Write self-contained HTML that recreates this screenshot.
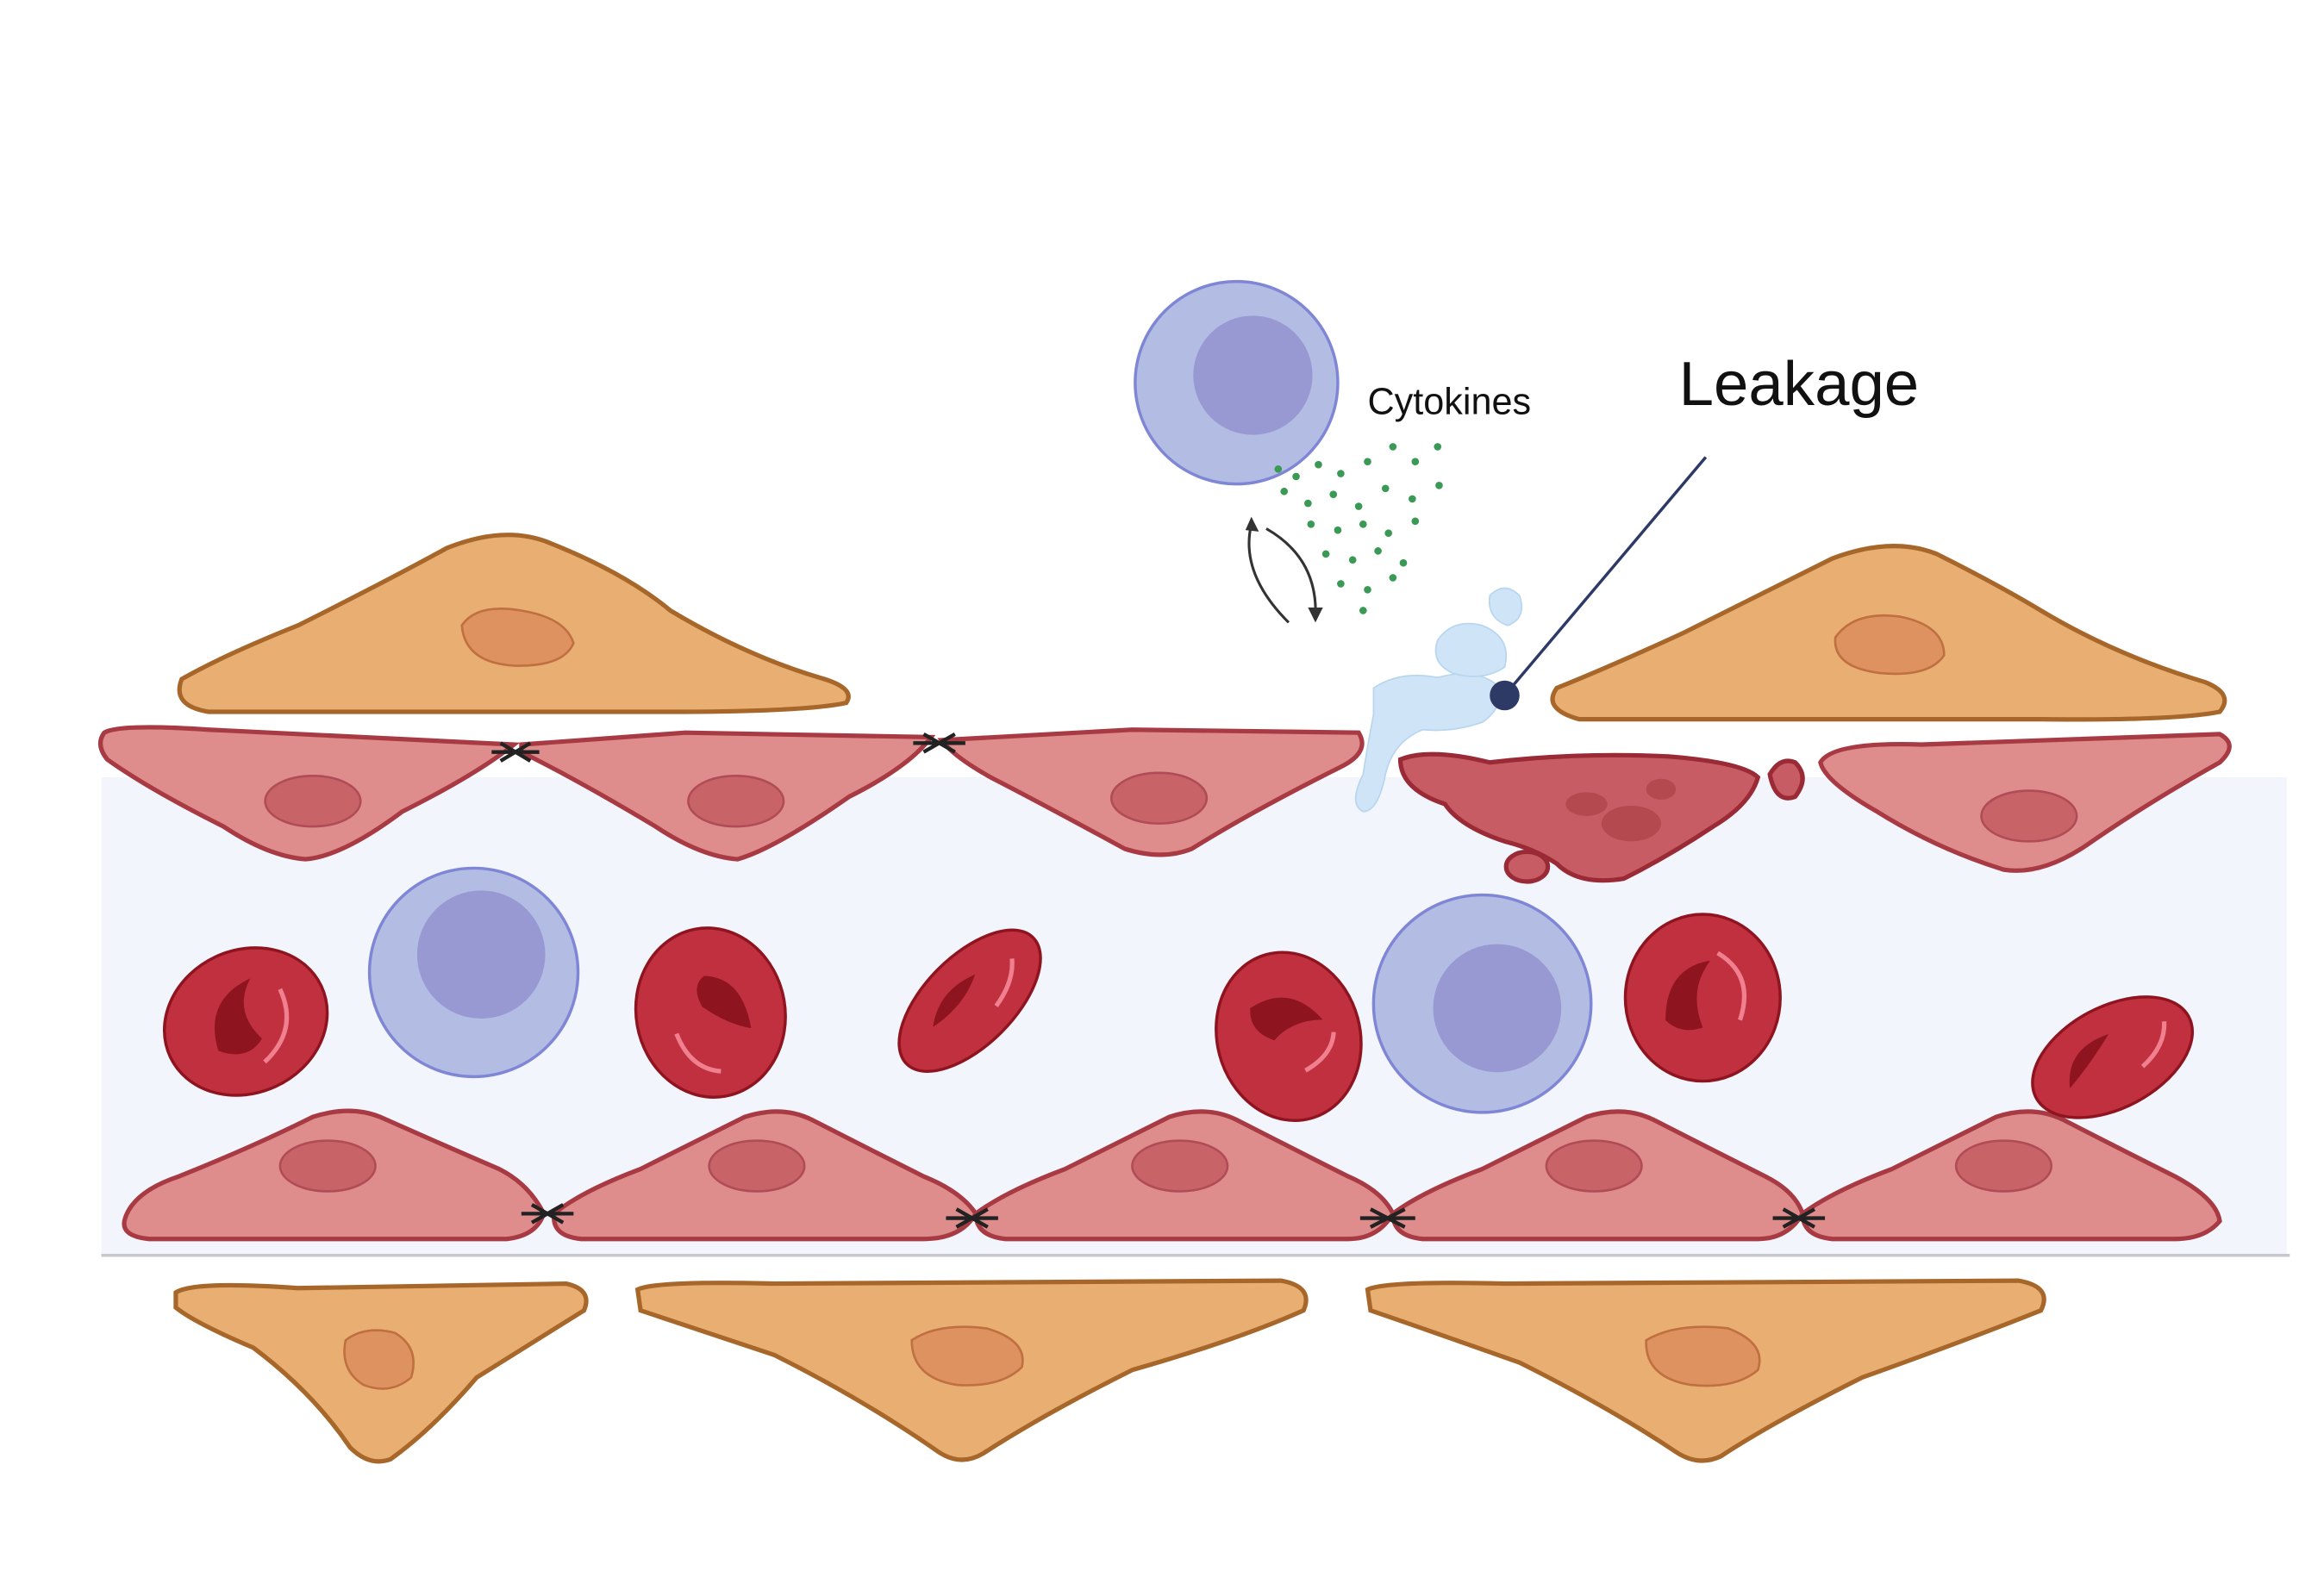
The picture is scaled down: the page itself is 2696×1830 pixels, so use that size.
<!DOCTYPE html>
<html><head><meta charset="utf-8"><style>
html,body{margin:0;padding:0;background:#fff;width:2696px;height:1830px;overflow:hidden}
svg{display:block}
</style></head><body>
<svg width="2696" height="1830" viewBox="0 0 1560 1059" preserveAspectRatio="none" xmlns="http://www.w3.org/2000/svg">
<rect x="0" y="0" width="1560" height="1059" fill="#fff"/>
<rect x="68" y="522" width="1467" height="321" fill="#f2f5fb"/>
<line x1="68" y1="843" x2="1537" y2="843" stroke="#c8c8cc" stroke-width="2"/>

<!-- pericytes top -->
<g fill="#e8ae72" stroke="#a8672a" stroke-width="3">
<path d="M122,456 Q150,440 200,420 Q260,390 300,368 Q340,352 370,365 Q420,385 450,410 Q500,440 550,455 Q575,462 568,472 Q540,478 450,478 L140,478 Q115,474 122,456 Z"/>
<path d="M1045,462 Q1080,448 1130,425 Q1190,395 1230,375 Q1270,360 1300,372 Q1340,392 1370,410 Q1420,440 1480,458 Q1500,466 1490,478 Q1460,484 1370,483 L1060,483 Q1035,476 1045,462 Z"/>
<path d="M118,868 Q130,860 200,865 L380,862 Q398,866 392,880 Q360,900 320,925 Q290,960 262,980 Q248,985 235,972 Q210,935 170,905 Q130,888 118,878 Z"/>
<path d="M428,866 Q440,860 520,862 L860,860 Q882,864 875,880 Q830,900 760,920 Q700,950 660,976 Q645,985 630,975 Q580,940 520,910 Q460,890 430,880 Z"/>
<path d="M918,866 Q930,860 1010,862 L1355,860 Q1378,864 1370,880 Q1320,900 1250,925 Q1190,955 1155,978 Q1140,985 1125,975 Q1080,945 1020,915 Q955,892 920,880 Z"/>
</g>
<g fill="#dd9260" stroke="#c07040" stroke-width="1.5">
<path d="M310,420 Q320,405 350,410 Q380,415 385,432 Q378,448 345,447 Q312,445 310,420 Z"/>
<path d="M1232,428 Q1245,410 1275,414 Q1305,420 1305,440 Q1295,455 1262,452 Q1230,448 1232,428 Z"/>
<path d="M232,900 Q245,890 265,895 Q282,905 276,925 Q262,937 244,930 Q228,920 232,900 Z"/>
<path d="M612,900 Q630,888 662,892 Q690,900 686,918 Q672,932 642,930 Q612,925 612,900 Z"/>
<path d="M1105,900 Q1125,888 1160,892 Q1186,902 1180,920 Q1165,933 1135,930 Q1104,925 1105,900 Z"/>
</g>

<!-- endothelial -->
<g fill="#de8c8c" stroke="#a83a44" stroke-width="3">
<path d="M70,492 Q80,486 140,490 L345,500 Q320,520 270,545 Q230,575 205,577 Q180,575 150,555 Q100,530 72,510 Q64,500 70,492 Z"/>
<path d="M350,500 L460,492 L625,495 Q610,515 570,535 Q520,570 495,577 Q470,575 440,555 Q390,525 350,505 Z"/>
<path d="M632,497 L760,490 L912,492 Q920,505 900,515 Q840,545 800,570 Q780,578 755,570 Q700,540 665,522 Q640,508 632,497 Z"/>
<path d="M1222,512 Q1230,498 1290,500 L1490,493 Q1503,500 1490,512 Q1440,540 1400,568 Q1370,588 1345,584 Q1300,570 1260,545 Q1225,525 1222,512 Z"/>
<path d="M84,818 Q90,800 120,790 Q170,770 210,750 Q235,742 255,750 Q300,770 335,785 Q355,795 365,815 Q360,830 340,832 L100,832 Q80,830 84,818 Z"/>
<path d="M372,815 Q390,800 430,785 Q470,765 500,750 Q525,742 545,752 Q590,775 620,790 Q645,800 655,815 Q645,832 620,832 L390,832 Q370,830 372,815 Z"/>
<path d="M655,815 Q675,800 715,785 Q755,765 785,750 Q810,742 830,752 Q875,775 905,790 Q928,800 935,815 Q925,832 905,832 L675,832 Q655,830 655,815 Z"/>
<path d="M935,815 Q955,800 995,785 Q1035,765 1065,750 Q1090,742 1110,752 Q1155,775 1185,790 Q1205,800 1210,815 Q1200,832 1180,832 L955,832 Q935,830 935,815 Z"/>
<path d="M1210,815 Q1230,800 1270,785 Q1310,765 1340,750 Q1365,742 1385,752 Q1430,775 1460,790 Q1488,805 1490,820 Q1480,832 1460,832 L1230,832 Q1210,830 1210,815 Z"/>
</g>
<g fill="#c86468" stroke="#b04c55" stroke-width="1.5">
<ellipse cx="210" cy="538" rx="32" ry="17"/>
<ellipse cx="494" cy="538" rx="32" ry="17"/>
<ellipse cx="778" cy="536" rx="32" ry="17"/>
<ellipse cx="1362" cy="548" rx="32" ry="17"/>
<ellipse cx="220" cy="783" rx="32" ry="17"/>
<ellipse cx="508" cy="783" rx="32" ry="17"/>
<ellipse cx="792" cy="783" rx="32" ry="17"/>
<ellipse cx="1070" cy="783" rx="32" ry="17"/>
<ellipse cx="1345" cy="783" rx="32" ry="17"/>
</g>
<!-- damaged cell -->
<g fill="#c85c64" stroke="#9a2a36" stroke-width="3">
<path d="M940,510 Q960,502 1000,512 Q1060,505 1120,508 Q1170,512 1180,522 Q1175,540 1150,555 Q1120,575 1090,590 Q1060,595 1045,580 Q1030,570 1010,565 Q980,555 970,540 Q940,530 940,510 Z"/>
<path d="M1188,520 Q1195,508 1205,512 Q1215,522 1205,535 Q1192,540 1188,520 Z"/>
<ellipse cx="1025" cy="582" rx="14" ry="10"/>
</g>
<g fill="#b44a50"><ellipse cx="1065" cy="540" rx="14" ry="8"/><ellipse cx="1095" cy="553" rx="20" ry="12"/><ellipse cx="1115" cy="530" rx="10" ry="7"/></g>

<!-- junctions -->
<g stroke="#222" stroke-width="2.5">
<path d="M330,505 L362,505 M336,499 L356,511 M336,511 L356,499"/>
<path d="M613,499 L648,499 M620,493 L641,505 M620,505 L641,493"/>
<path d="M350,815 L385,815 M357,809 L378,821 M357,821 L378,809"/>
<path d="M635,818 L670,818 M642,812 L663,824 M642,824 L663,812"/>
<path d="M913,818 L950,818 M920,812 L943,824 M920,824 L943,812"/>
<path d="M1190,818 L1225,818 M1197,812 L1218,824 M1197,824 L1218,812"/>
</g>

<!-- leakage fluid -->
<g fill="#cfe4f6" stroke="#b8d6f0" stroke-width="1">
<path d="M922,462 Q940,450 965,455 Q990,448 1005,460 Q1010,475 995,485 Q975,492 955,490 Q935,498 930,520 Q925,545 915,545 Q905,540 915,520 Q918,500 922,480 Z"/>
<path d="M965,430 Q975,415 995,420 Q1015,428 1010,448 Q995,458 975,452 Q960,445 965,430 Z"/>
<path d="M1000,400 Q1010,390 1020,400 Q1025,415 1012,420 Q998,415 1000,400 Z"/>
</g>

<!-- leakage pointer -->
<line x1="1145" y1="307" x2="1010" y2="467" stroke="#2d3a66" stroke-width="2"/>
<circle cx="1010" cy="467" r="10" fill="#2d3a66"/>

<!-- lymphocytes -->
<g stroke="#7f86d6" stroke-width="2">
<circle cx="830" cy="257" r="68" fill="#b3bde3"/>
<circle cx="841" cy="252" r="40" fill="#9898d2" stroke="none"/>
<circle cx="318" cy="653" r="70" fill="#b3bde3"/>
<circle cx="323" cy="641" r="43" fill="#9898d2" stroke="none"/>
<circle cx="995" cy="674" r="73" fill="#b3bde3"/>
<circle cx="1005" cy="677" r="43" fill="#9898d2" stroke="none"/>
</g>

<!-- RBCs -->
<g>
<g transform="translate(165,686) rotate(-25)"><ellipse rx="56" ry="48" fill="#c0303e" stroke="#8e1420" stroke-width="2"/><path d="M-25,10 Q-20,-25 15,-25 Q-5,-10 5,15 Q-10,25 -25,10 Z" fill="#8e1420"/><path d="M30,-10 Q30,20 0,30" stroke="#f08090" stroke-width="3" fill="none"/></g>
<g transform="translate(477,680) rotate(-10)"><ellipse rx="50" ry="57" fill="#c0303e" stroke="#8e1420" stroke-width="2"/><path d="M0,-25 Q25,-20 25,15 Q10,10 -5,-5 Q-10,-20 0,-25 Z" fill="#8e1420"/><path d="M-25,10 Q-20,35 0,40" stroke="#f08090" stroke-width="3" fill="none"/></g>
<g transform="translate(651,672) rotate(-45)"><ellipse rx="60" ry="30" fill="#c0303e" stroke="#8e1420" stroke-width="2"/><path d="M-30,-5 Q-10,-20 15,-10 Q-5,0 -30,-5 Z" fill="#8e1420"/><path d="M10,15 Q30,12 40,0" stroke="#f08090" stroke-width="3" fill="none"/></g>
<g transform="translate(865,696) rotate(-15)"><ellipse rx="48" ry="57" fill="#c0303e" stroke="#8e1420" stroke-width="2"/><path d="M-20,-25 Q10,-35 25,-5 Q5,-10 -10,0 Q-25,-10 -20,-25 Z" fill="#8e1420"/><path d="M5,25 Q25,20 30,5" stroke="#f08090" stroke-width="3" fill="none"/></g>
<g transform="translate(1143,670)"><ellipse rx="52" ry="56" fill="#c0303e" stroke="#8e1420" stroke-width="2"/><path d="M-25,15 Q-25,-20 5,-25 Q-10,-5 0,20 Q-15,25 -25,15 Z" fill="#8e1420"/><path d="M10,-30 Q35,-15 25,15" stroke="#f08090" stroke-width="3" fill="none"/></g>
<g transform="translate(1418,710) rotate(-28)"><ellipse rx="58" ry="34" fill="#c0303e" stroke="#8e1420" stroke-width="2"/><path d="M-35,5 Q-25,-20 5,-15 Q-15,-3 -35,5 Z" fill="#8e1420"/><path d="M15,15 Q35,10 42,-5" stroke="#f08090" stroke-width="3" fill="none"/></g>
</g>

<!-- cytokines -->
<g fill="#3a9a55">
<circle cx="858" cy="315" r="2.5"/><circle cx="870" cy="320" r="2.5"/><circle cx="885" cy="312" r="2.5"/><circle cx="900" cy="318" r="2.5"/><circle cx="918" cy="310" r="2.5"/><circle cx="935" cy="300" r="2.5"/><circle cx="950" cy="310" r="2.5"/><circle cx="965" cy="300" r="2.5"/>
<circle cx="862" cy="330" r="2.5"/><circle cx="878" cy="338" r="2.5"/><circle cx="895" cy="332" r="2.5"/><circle cx="912" cy="340" r="2.5"/><circle cx="930" cy="328" r="2.5"/><circle cx="948" cy="335" r="2.5"/><circle cx="966" cy="326" r="2.5"/>
<circle cx="880" cy="352" r="2.5"/><circle cx="898" cy="356" r="2.5"/><circle cx="915" cy="352" r="2.5"/><circle cx="932" cy="358" r="2.5"/><circle cx="950" cy="350" r="2.5"/>
<circle cx="890" cy="372" r="2.5"/><circle cx="908" cy="376" r="2.5"/><circle cx="925" cy="370" r="2.5"/><circle cx="942" cy="378" r="2.5"/>
<circle cx="900" cy="392" r="2.5"/><circle cx="918" cy="396" r="2.5"/><circle cx="935" cy="388" r="2.5"/><circle cx="915" cy="410" r="2.5"/>
</g>
<!-- arrows -->
<g stroke="#333" stroke-width="1.8" fill="none">
<path d="M840,352 Q832,385 865,418"/><path d="M850,355 Q885,375 883,415"/>
</g>
<path d="M836,356 L840,347 L845,357 Z" fill="#333"/><path d="M878,408 L883,418 L888,408 Z" fill="#333"/>

<text x="918" y="278" font-family="Liberation Sans, sans-serif" font-size="25" fill="#111">Cytokines</text>
<text x="1127" y="272" font-family="Liberation Sans, sans-serif" font-size="42" fill="#111">Leakage</text>
</svg>
</body></html>
